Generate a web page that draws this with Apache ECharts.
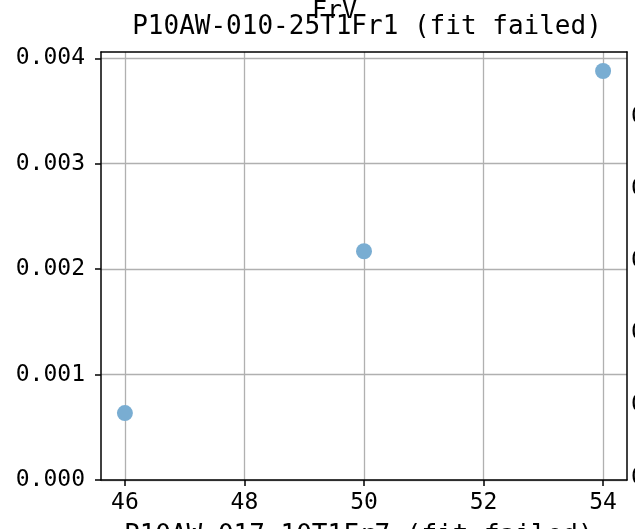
<!DOCTYPE html>
<html>
<head>
<meta charset="utf-8">
<script src="https://cdn.jsdelivr.net/npm/echarts@6/dist/echarts.min.js"></script>
<style>html,body{margin:0;padding:0;background:#fff;}#c{width:635px;height:529px;}</style>
</head>
<body>
<div id="c"></div>
<script>
var titleText = 'P10AW-010-25T1Fr1 (fit failed)';
var xValues = [46, 50, 54];
var yValues = [0.000635, 0.00217, 0.00388];
var xTicks = [46, 48, 50, 52, 54];
var yTicks = [0.000, 0.001, 0.002, 0.003, 0.004];
var neighbourLabelY = [119, 191, 263, 335, 407, 480];

var FONT = '"DejaVu Sans Mono", monospace';
var chart = echarts.init(document.getElementById('c'), null, {renderer: 'canvas'});
var gfx = [
  {type: 'text', left: 312, top: -1, style: {text: 'FrV', font: '25px ' + FONT, fill: '#000'}, z: 10},
  {type: 'text', left: 124, top: 523, style: {text: 'P10AW-017-10T1Fr7 (fit failed)', font: '26px ' + FONT, fill: '#000'}, z: 10}
];
neighbourLabelY.forEach(function (y) {
  gfx.push({type: 'text', left: 631, top: y - 13, style: {text: '0.00', font: '23px ' + FONT, fill: '#000'}});
});
var frameLine = {show: true, onZero: false, lineStyle: {color: '#000', width: 1.5}};
chart.setOption({
  animation: false,
  backgroundColor: '#fff',
  title: {
    text: titleText, left: 362, top: 9, textAlign: 'center',
    textStyle: {fontFamily: FONT, fontSize: 26, fontWeight: 'normal', color: '#000'}
  },
  grid: {left: 101, right: 8, top: 52, bottom: 49},
  graphic: gfx,
  xAxis: [{
    type: 'value', min: 45.6, max: 54.4,
    axisLine: frameLine,
    axisTick: {show: true, inside: false, length: 6, lineStyle: {color: '#000', width: 1.5}, customValues: xTicks},
    axisLabel: {customValues: xTicks, fontFamily: FONT, fontSize: 23, color: '#000', margin: 12, formatter: function (v) { return String(v); }},
    splitLine: {show: true, lineStyle: {color: '#b0b0b0', width: 1.3}}
  }, {
    type: 'value', position: 'top', min: 45.6, max: 54.4,
    axisLine: frameLine, axisTick: {show: false}, axisLabel: {show: false}, splitLine: {show: false}
  }],
  yAxis: [{
    type: 'value', min: 0, max: 0.00406,
    axisLine: frameLine,
    axisTick: {show: true, inside: false, length: 6, lineStyle: {color: '#000', width: 1.5}, customValues: yTicks},
    axisLabel: {customValues: yTicks, fontFamily: FONT, fontSize: 23, color: '#000', margin: 16, formatter: function (v) { return v.toFixed(3); }},
    splitLine: {show: true, lineStyle: {color: '#b0b0b0', width: 1.3}}
  }, {
    type: 'value', position: 'right', min: 0, max: 0.00406,
    axisLine: frameLine, axisTick: {show: false}, axisLabel: {show: false}, splitLine: {show: false}
  }],
  series: [{
    type: 'scatter',
    data: xValues.map(function (x, i) { return [x, yValues[i]]; }),
    symbolSize: 16,
    itemStyle: {color: '#79add2', opacity: 1}
  }]
});
</script>
</body>
</html>
